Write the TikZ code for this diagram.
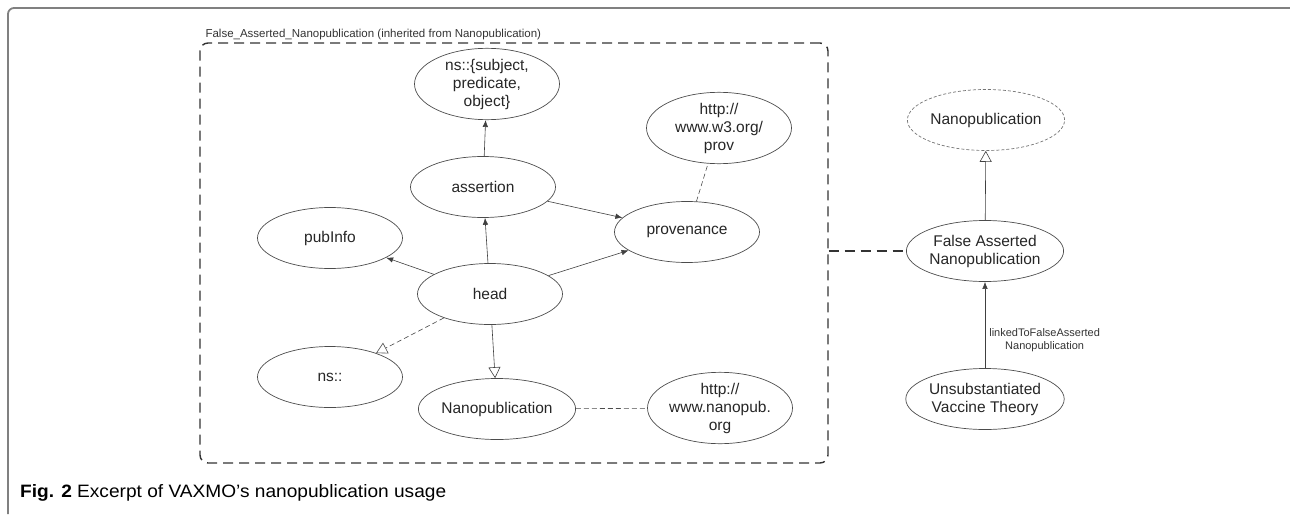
\documentclass[tikz,border=0pt]{standalone}
\usepackage{fontspec}
\setmainfont{Liberation Sans}
\usetikzlibrary{arrows.meta,shapes.geometric}
\begin{document}
\begin{tikzpicture}[x=1pt,y=-1pt,
  ell/.style={ellipse, draw=black!70, line width=0.7pt, minimum width=145pt, minimum height=61pt,
    inner sep=0pt, font=\fontsize{15.5}{18}\selectfont, align=center, text=black!85},
  sarrow/.style={-{Latex[length=7pt,width=5.5pt]}, line width=0.6pt, draw=black!75},
  oarrow/.style={-{Triangle[open,length=11pt,width=12pt]}, line width=0.6pt, draw=black!75},
  thindash/.style={dash pattern=on 5pt off 3pt, line width=0.6pt, draw=black!70},
  boxdash/.style={dash pattern=on 10pt off 6pt, line width=1.4pt, draw=black!80},
  small/.style={font=\fontsize{11}{13}\selectfont, text=black!80, align=center},
]
\useasboundingbox (0,0) rectangle (1290,514);
% outer frame
\draw[black!50, line width=1.8pt, rounded corners=6pt] (8,514) -- (8,8) -- (1290,8);

% dashed container
\node[boxdash, draw, rounded corners=8pt, minimum width=628pt, minimum height=420pt, inner sep=0pt] (box) at (514,253) {};
\node[anchor=base west, font=\fontsize{11.5}{13}\selectfont, text=black!80] (boxlabel) at (202,37)
  {False\_Asserted\_Nanopublication (inherited from Nanopublication)};

% inner nodes
\node[ell] (nsspo) at (487,84) {ns::\{subject,\\predicate,\\object\}};
\node[ell] (assertion) at (483,187) {assertion};
\node[ell] (w3) at (719,128) {http://\\www.w3.org/\\prov};
\node[ell] (prov) at (687,232) {provenance};
\node[ell] (pubinfo) at (330,238) {pubInfo};
\node[ell] (head) at (490,294) {head};
\node[ell] (ns) at (330,377) {ns::};
\node[ell, minimum width=149pt] (nanoin) at (497,409) {Nanopublication};
\node[ell] (nanopub) at (720,408) {http://\\www.nanopub.\\org};

% right nodes
\node[ell, draw=black!55, dash pattern=on 3pt off 2pt, minimum width=150pt] (nanoR) at (986,120) {Nanopublication};
\node[ell, minimum width=149pt] (fan) at (985,251) {False Asserted\\Nanopublication};
\node[ell, minimum width=149pt] (uvt) at (985,399) {Unsubstantiated\\Vaccine Theory};

% edges
\draw[sarrow] (assertion) -- (nsspo);
\draw[sarrow] (assertion) -- (prov);
\draw[sarrow] (head) -- (assertion);
\draw[sarrow] (head) -- (prov);
\draw[sarrow] (head) -- (pubinfo);
\draw[oarrow, thindash] (head) -- (ns);
\draw[oarrow] (head) -- (nanoin);
\draw[thindash] (nanoin) -- (nanopub);
\draw[thindash] (prov) -- (w3);
\draw[oarrow] (fan) -- (nanoR);
\draw[sarrow] (uvt) -- node[small, anchor=west, inner sep=0pt, xshift=4pt, yshift=-15pt] (elabel) {linkedToFalseAsserted\\Nanopublication} (fan);
\draw[boxdash] (fan.west -| box.east) -- (fan.west);

% caption
\node[anchor=base west, inner sep=0pt] (cap) at (20,497)
  {\resizebox{426pt}{13pt}{\textbf{Fig. 2} Excerpt of VAXMO’s nanopublication usage}};
\end{tikzpicture}
\end{document}
